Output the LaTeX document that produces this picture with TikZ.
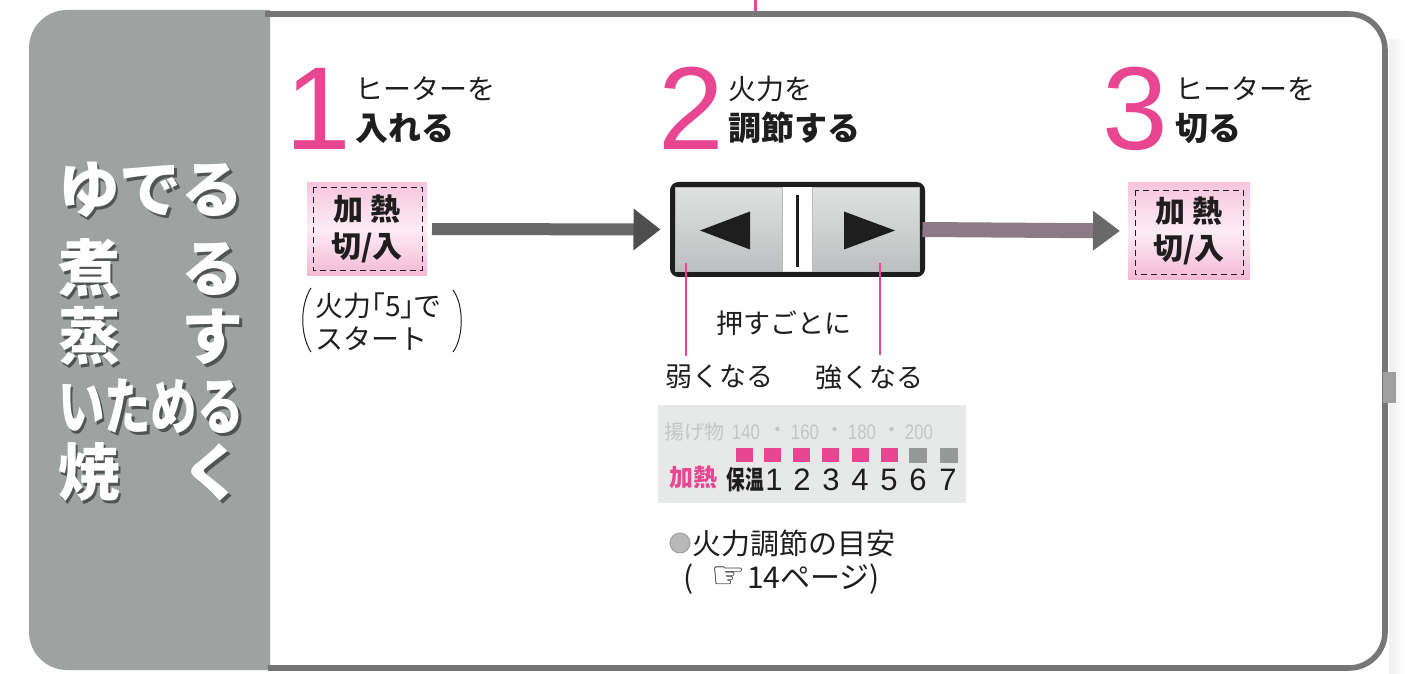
\documentclass[tikz,border=0pt]{standalone}
\usepackage{fontspec}
\setmainfont{Noto Sans CJK JP}
\newfontfamily\lib{Liberation Sans}
\newfontfamily\dv{DejaVu Sans}
\usetikzlibrary{arrows.meta,calc}
\definecolor{pk}{RGB}{232,70,145}
\definecolor{panelg}{RGB}{158,163,162}
\definecolor{frameg}{RGB}{118,118,118}
\definecolor{ink}{RGB}{30,30,30}
\definecolor{pkL}{RGB}{248,196,220}
\definecolor{pkM}{RGB}{253,236,244}
\definecolor{pkB}{RGB}{245,185,213}
\definecolor{scbg}{RGB}{231,233,232}
\definecolor{faint}{RGB}{196,198,198}
\definecolor{arrowA}{RGB}{104,104,104}
\definecolor{arrowAh}{RGB}{78,78,78}
\definecolor{arrowB}{RGB}{140,122,135}
\definecolor{arrowBh}{RGB}{105,105,105}
\definecolor{shadowg}{RGB}{80,84,84}
\definecolor{btnT}{RGB}{224,226,226}
\definecolor{btnB}{RGB}{188,191,191}
\definecolor{sqg}{RGB}{150,152,152}
\begin{document}
\begin{tikzpicture}[x=0.5pt,y=-0.5pt,
  every node/.style={inner sep=0pt, outer sep=0pt, text=ink},
  heatbtn/.style={minimum width=60pt, minimum height=46.5pt, top color=pkL, bottom color=pkB, middle color=pkM, align=center, font=\fontsize{15}{18.5}\selectfont\bfseries},
  innerdash/.style={draw=ink, densely dashed, line width=0.5pt},
  stepnum/.style={font=\lib\fontsize{59}{59}\selectfont, text=pk, anchor=base},
  steptop/.style={font=\fontsize{14}{14}\selectfont, anchor=base west},
  stepbot/.style={font=\fontsize{16.5}{16.5}\selectfont\bfseries, anchor=base west},
  pshadow/.style={font=\fontsize{31}{31}\selectfont\bfseries, text=shadowg},
  pfront/.style={font=\fontsize{31}{31}\selectfont\bfseries, text=white},
  ctrlframe/.style={minimum width=125pt, minimum height=45pt, draw=ink, line width=2.5pt, rounded corners=3pt, fill=white},
  ctlbtn/.style={minimum width=53.5pt, minimum height=42pt, top color=btnT, bottom color=btnB, draw=gray!55, line width=0.4pt},
  label/.style={font=\fontsize{13.5}{13.5}\selectfont},
  pinkline/.style={draw=pk, line width=0.6pt},
  faintnum/.style={font=\lib\fontsize{10.5}{10.5}\selectfont, text=faint, xscale=0.8},
  faintdot/.style={font=\fontsize{10.5}{10.5}\selectfont, text=faint},
  sqp/.style={minimum width=8.5pt, minimum height=7pt, fill=pk},
  sqgr/.style={minimum width=8.5pt, minimum height=7pt, fill=sqg, draw=gray!80, line width=0.4pt},
  digit/.style={font=\lib\fontsize{15.5}{15.5}\selectfont},
]
\useasboundingbox (0,0) rectangle (1405,674);
% right edge shadow
\fill[left color=gray!12, right color=white] (1389,40) rectangle (1405,674);
% left gray panel
\begin{scope}
  \clip (0,0) rectangle (270,674);
  \fill[panelg, rounded corners=19pt] (29,10) rectangle (340,670);
\end{scope}
% frame
\draw[frameg, line width=2.8pt, rounded corners=18pt] (265,14) -- (1385,14) -- (1385,668) -- (268,668);
\draw[pk, line width=1.5pt] (755,0) -- (755,11);
\fill[gray!75] (1383,372) rectangle (1396,403);

% left panel words
\node[pshadow] (r1s) at (154,193) {ゆでる};
\node[pfront]  (r1)  at (151,190) {ゆでる};
\node[pshadow] (r2s) at (154,271) {煮　る};
\node[pfront]  (r2)  at (151,268) {煮　る};
\node[pshadow] (r3s) at (154,339) {蒸　す};
\node[pfront]  (r3)  at (151,336) {蒸　す};
\node[pshadow, xscale=0.75] (r4s) at (154,409) {いためる};
\node[pfront, xscale=0.75]  (r4)  at (151,406) {いためる};
\node[pshadow] (r5s) at (154,475) {焼　く};
\node[pfront]  (r5)  at (151,472) {焼　く};

% step headers
\node[stepnum] (n1) at (318,150) {1};
\node[steptop] (t1a) at (355,100) {ヒーターを};
\node[stepbot] (t1b) at (355,141) {入れる};
\node[stepnum] (n2) at (691,150) {2};
\node[steptop] (t2a) at (728,100) {火力を};
\node[stepbot] (t2b) at (728,141) {調節する};
\node[stepnum] (n3) at (1135,150) {3};
\node[steptop] (t3a) at (1175,100) {ヒーターを};
\node[stepbot] (t3b) at (1175,141) {切る};

% heat buttons
\node[heatbtn] (b1) at (367,229) {加 熱\\切/入};
\draw[innerdash] ([shift={(6,5)}]b1.north west) rectangle ([shift={(-5,-5)}]b1.south east);
\node[heatbtn, minimum width=61pt, minimum height=48.5pt] (b3) at (1189,231) {加 熱\\切/入};
\draw[innerdash] ([shift={(7,8)}]b3.north west) rectangle ([shift={(-7,-5)}]b3.south east);

% control panel
\node[ctrlframe] (cp) at (797.5,229.5) {};
\node[ctlbtn] (lb) at (728.5,229.5) {};
\node[ctlbtn] (rb) at (866,229.5) {};
\fill[ink] ([shift={(-28.5,1)}]lb.center) -- ([shift={(21.5,-18)}]lb.center) -- ([shift={(21.5,20)}]lb.center) -- cycle;
\fill[ink] ([shift={(29,1)}]rb.center) -- ([shift={(-22,-18)}]rb.center) -- ([shift={(-22,20)}]rb.center) -- cycle;
\draw[ink, line width=1.5pt] ([shift={(0,-34)}]cp.center) -- ([shift={(0,38)}]cp.center);

% arrows
\draw[arrowA, line width=6pt, -{Triangle[length=13.5pt,width=20pt,color=arrowAh]}, shorten <=2.5pt, shorten >=6pt] (b1.east) -- (cp.west);
\draw[arrowB, line width=7.5pt, -{Triangle[length=13.5pt,width=19pt,color=arrowBh]}, shorten >=4pt] (cp.east) -- (b3.west);

% start note
\node[anchor=west, align=left, font=\fontsize{14}{16.5}\selectfont] (st) at (315,322) {{\addfontfeature{RawFeature=+palt}火力「5」で}\\スタート};
\draw[ink, line width=0.5pt] (311,288) .. controls (300,305) and (300,335) .. (311,352);
\draw[ink, line width=0.5pt] (453,290) .. controls (464,305) and (464,337) .. (453,352);

% labels
\node[label] (push) at (784,323) {押すごとに};
\node[label] (weak) at (719,377) {弱くなる};
\node[label] (strong) at (869,377) {強くなる};
\draw[pinkline] ([shift={(-42.5,-8.5)}]lb.south) -- ([shift={(-33,-9)}]weak.north);
\draw[pinkline] ([shift={(14,-8.5)}]rb.south) -- ([shift={(11,-9)}]strong.north);

% scale panel
\node[minimum width=154pt, minimum height=49pt, fill=scbg] (sc) at (812,454) {};
\node[font=\fontsize{10}{10}\selectfont, text=faint] (ag) at (694,432) {揚げ物};
\node[faintnum] (f140) at (746,432) {140};
\node[faintdot] (d1) at (778,432) {・};
\node[faintnum] (f160) at (805,432) {160};
\node[faintdot] (d2) at (835,432) {・};
\node[faintnum] (f180) at (862,432) {180};
\node[faintdot] (d3) at (892,432) {・};
\node[faintnum] (f200) at (919,432) {200};
\node[sqp] (s0) at (744,455) {};
\node[sqp] (s1) at (772,455) {};
\node[sqp] (s2) at (801,455) {};
\node[sqp] (s3) at (830,455) {};
\node[sqp] (s4) at (860,455) {};
\node[sqp] (s5) at (889,455) {};
\node[sqgr] (s6) at (918,455) {};
\node[sqgr] (s7) at (949,455) {};
\node[font=\fontsize{12}{12}\selectfont\bfseries, text=pk] (kanetsu) at (693,477) {加熱};
\node[font=\fontsize{13}{13}\selectfont\bfseries, xscale=0.72] (hoon) at (745,480) {保温};
\node[digit] (g1) at (774,480) {1};
\node[digit] (g2) at (802,480) {2};
\node[digit] (g3) at (831,480) {3};
\node[digit] (g4) at (860,480) {4};
\node[digit] (g5) at (889,480) {5};
\node[digit] (g6) at (918,480) {6};
\node[digit] (g7) at (948,480) {7};

% reference note
\node[circle, minimum size=10pt, fill=gray!55, draw=gray!75, line width=0.5pt] (dot) at (680,543) {};
\node[anchor=west, font=\fontsize{14.5}{14.5}\selectfont] (guide) at (692,543) {火力調節の目安};
\node[anchor=west, font=\fontsize{15}{15}\selectfont] (page) at (683,579) {(\hspace{9pt}{\dv\fontsize{19}{19}\selectfont ☞}\hspace{1pt}14ページ)};
\end{tikzpicture}
\end{document}
